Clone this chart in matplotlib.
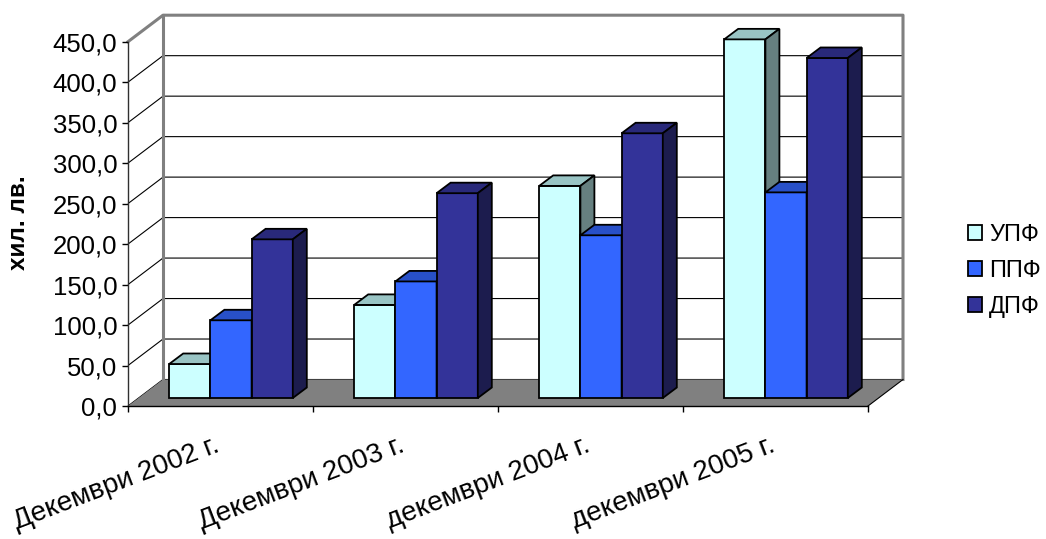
import matplotlib
matplotlib.use("Agg")
import matplotlib.pyplot as plt
from matplotlib.patches import Polygon, Patch
import numpy as np

plt.rcParams["font.family"] = ["Liberation Sans", "DejaVu Sans"]

categories = ["Декември 2002 г.", "Декември 2003 г.", "декември 2004 г.", "декември 2005 г."]
series = ["УПФ", "ППФ", "ДПФ"]
upf = [42, 115, 262, 443]
ppf = [96, 144, 201, 254]
dpf = [196, 253, 327, 420]
yticks = np.arange(0, 451, 50)

# front / top / side shades for each series
shades = [
    ("#CCFFFF", "#99C4C4", "#668080"),
    ("#3366FF", "#2850C8", "#1A3380"),
    ("#333399", "#29297A", "#1C1C4E"),
]

fig = plt.figure(figsize=(10.46, 5.39), dpi=100)
W, H = 1046, 539
x0, x1, yb, yt = 128, 868, 406, 41.7
ax = fig.add_axes([x0 / W, 1 - yb / H, (x1 - x0) / W, (yb - yt) / H])
ax.set_xlim(0, 4)
ax.set_ylim(0, 450)

px_x = (x1 - x0) / 4          # pixels per category
px_y = (yb - yt) / 450        # pixels per unit
ddx, ddy = 35 / px_x, 26.5 / px_y   # full depth of the floor
bx0, by0 = 10.5 / px_x, 8 / px_y    # bar front plane offset
bdx, bdy = 14 / px_x, 10.5 / px_y   # bar depth
bw = 41.2 / px_x
start = (1 - 3 * bw) / 2

grey = "#808080"
# back wall gridlines and side wall diagonals
for v in yticks[:-1]:
    ax.plot([0, ddx, 4 + ddx], [v, v + ddy, v + ddy], color="black", lw=0.8,
            zorder=1, clip_on=False, solid_capstyle="butt")
# wall frame
ax.plot([0, ddx, 4 + ddx, 4 + ddx], [450, 450 + ddy, 450 + ddy, ddy],
        color=grey, lw=2.2, zorder=1.2, clip_on=False)
ax.plot([ddx, ddx], [ddy, 450 + ddy], color=grey, lw=2.2, zorder=1.2, clip_on=False)

# floor
floor = Polygon([(0, 0), (4, 0), (4 + ddx, ddy), (ddx, ddy)], closed=True,
                facecolor=grey, edgecolor="none", zorder=2, clip_on=False)
ax.add_patch(floor)
ax.plot([4, 4 + ddx], [0, ddy], color="black", lw=0.8, zorder=2.1, clip_on=False)

# 3d columns
values = [upf, ppf, dpf]
ec = dict(edgecolor="black", linewidth=1.3, joinstyle="miter", clip_on=False)
z = 3
for g in range(len(categories)):
    for s in range(3):
        v = values[s][g]
        xl = g + start + s * bw + bx0
        xr = xl + bw
        front, top, side = shades[s]
        ax.bar(xl, v, width=bw, bottom=by0, align="edge", color=front, zorder=z, **ec)
        ax.add_patch(Polygon([(xl, v + by0), (xr, v + by0), (xr + bdx, v + by0 + bdy),
                              (xl + bdx, v + by0 + bdy)], closed=True,
                             facecolor=top, zorder=z, **ec))
        ax.add_patch(Polygon([(xr, by0), (xr + bdx, by0 + bdy), (xr + bdx, v + by0 + bdy),
                              (xr, v + by0)], closed=True, facecolor=side, zorder=z, **ec))
        z += 0.1

# axes
for sp in ["top", "right"]:
    ax.spines[sp].set_visible(False)
ax.spines["left"].set_color("#303030")
ax.spines["bottom"].set_color("black")
ax.spines["left"].set_linewidth(1.0)
ax.spines["bottom"].set_linewidth(1.0)
ax.set_yticks(yticks)
ax.set_yticklabels([f"{v:.1f}".replace(".", ",") for v in yticks])
ax.set_xticks(np.arange(0, 5))
ax.set_xticklabels([])
ax.tick_params(axis="both", direction="out", length=4.3, width=1.0, color="black")
ax.tick_params(axis="y", labelsize=18.5, pad=3.5)
ax.patch.set_visible(False)

for g, lab in enumerate(categories):
    ax.text(g + 0.5 - 0.035, -33, lab, rotation=21, rotation_mode="anchor",
            ha="right", va="top", fontsize=20, clip_on=False)

fig.text(18.5 / W, 1 - 223 / H, "хил. лв.", rotation=90, ha="center", va="center",
         fontsize=17.5, fontweight="bold")

handles = [Patch(facecolor=shades[i][0], edgecolor="black", linewidth=1.3) for i in range(3)]
fig.legend(handles, series, loc="center left", bbox_to_anchor=(968 / W, 1 - 271 / H),
           frameon=False, fontsize=17, handlelength=0.6, handleheight=0.6,
           handletextpad=0.3, labelspacing=0.6, borderaxespad=0, borderpad=0)

fig.savefig("out.png", dpi=100)
